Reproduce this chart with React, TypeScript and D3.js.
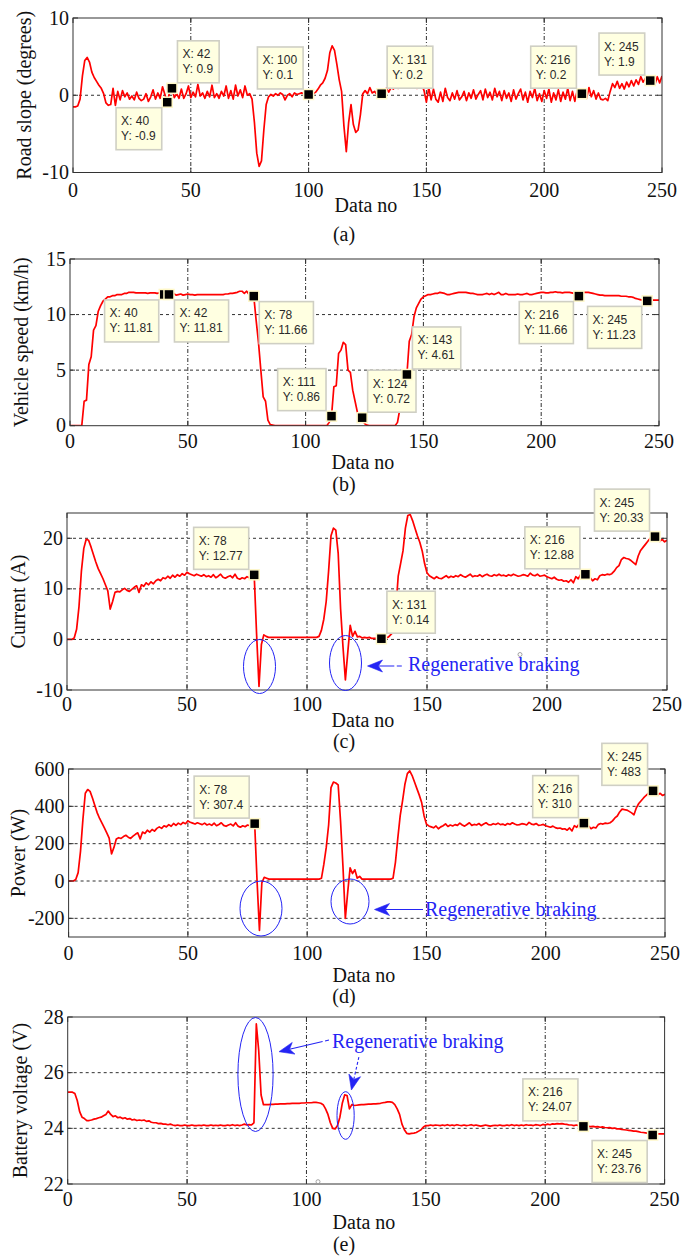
import React from 'react';
import * as d3 from 'd3';

// ---------- DATA (index = Data no, 0..250) ----------
const slope = [
  -1.5, -1.5, -1.4, -0.5, 2.5, 4.5, 4.9, 4.3, 3.0, 2.3,
  1.8, 1.3, 0.9, 0.2, -1.0, -1.3, -1.2, 0.9, -1.3, 0.5,
  -0.6, 0.6, -0.2, 0.3, -0.5, -0.1, -0.6, 0.4, -0.4, -0.7,
  -0.5, 0.2, -0.8, -0.2, 0.7, -0.5, 0.3, -0.4, 1.1, 0.1,
  -0.9, 0.4, 0.9, -0.3, 0.2, -0.4, 0.8, -0.4, 0.2, 1.2,
  -0.3, 0.4, -0.2, 1.4, -0.1, 0.3, -0.4, 0.5, -0.2, 1.3,
  -0.3, 0.2, -0.4, 0.5, -0.1, 1.2, -0.4, 0.6, -0.5, 1.3,
  -0.1, 0.7, -0.3, 1.2, 0.0, 0.2, -0.5, -3.5, -7.5, -9.2,
  -8.5, -4.5, -1.2, -0.2, 0.1, -0.1, 0.2, 0.0, 0.3, 0.1,
  -0.6, 0.0, 0.2, -0.2, 0.3, 0.1, 0.2, 0.3, 0.2, 0.3,
  0.1, 0.1, 0.2, 0.4, 0.8, 1.3, 1.6, 2.2, 3.2, 5.5,
  6.4, 5.8, 4.0, 2.0, 0.5, -4.0, -7.3, -3.5, -1.2, -3.8,
  -4.8, -4.5, -2.5, 0.2, 0.6, 0.2, 1.0, 0.3, 0.5, 0.1,
  0.3, 0.2, 0.5, 0.9, 0.4, 1.0, 0.8, 1.2, 0.9, 1.3,
  1.0, 1.4, 1.1, 1.3, 1.0, 1.2, 0.9, 1.2, 1.4, 0.6,
  -0.9, 1.0, -0.6, 0.8, -0.5, -0.9, 0.4, -0.8, 0.9, -0.3,
  -0.7, 0.3, -0.5, 0.6, -0.6, -0.2, 0.5, -0.7, 0.3, -0.4,
  0.7, -0.5, 0.1, 0.6, -0.6, 0.8, -0.3, 0.4, -0.6, 0.9,
  -0.2, 0.5, -0.7, 0.6, -0.4, 0.3, -0.8, 0.7, -0.5, 0.2,
  0.8, -0.6, 0.4, -0.9, 0.5, -0.3, 0.9, -0.7, 0.2, -0.8,
  0.6, -0.4, 0.8, -0.9, 0.3, -0.6, 0.7, -0.8, 0.4, -0.5,
  0.9, -0.7, 0.5, -0.8, 0.6, -0.3, 0.2, 0.7, -0.4, 1.0,
  -0.2, 0.6, -0.5, 0.3, -0.5, -0.6, -0.4, -0.7, 0.5, 1.5,
  1.0, 1.8, 0.9, 1.5, 0.8, 1.7, 1.1, 1.9, 1.2, 2.0,
  1.4, 2.4, 1.7, 2.2, 1.8, 1.9, 2.3, 1.4, 2.4, 1.6,
  2.5,
];

const speed = [
  0, 0, 0, 0, 0, 0, 2.2, 2.3, 5.5, 6.2,
  8.6, 9.0, 10.3, 10.8, 11.2, 11.4, 11.6, 11.6, 11.7, 11.7,
  11.8, 11.8, 11.8, 11.9, 11.9, 12.0, 12.0, 12.0, 11.95, 11.95,
  11.95, 11.95, 11.95, 11.9, 11.95, 11.95, 11.95, 11.9, 11.95, 11.95,
  11.81, 11.85, 11.81, 11.85, 11.9, 11.75, 11.8, 11.85, 11.75, 11.8,
  11.85, 11.8, 11.8, 11.75, 11.8, 11.8, 11.8, 11.8, 11.8, 11.8,
  11.8, 11.8, 11.8, 11.8, 11.8, 11.8, 11.85, 11.85, 11.9, 11.9,
  11.95, 12.0, 12.1, 12.1, 11.9, 12.1, 11.8, 11.7, 11.66, 9.5,
  7.5, 5.0, 2.6, 2.2, 0.5, 0.1, 0.05, 0, 0, 0,
  0, 0, 0, 0, 0, 0, 0, 0, 0, 0,
  0, 0, 0, 0, 0, 0, 0, 0, 0, 0,
  0.3, 0.86, 3.5, 3.6, 6.5, 6.8, 7.5, 7.3, 5.0, 4.8,
  3.2, 2.2, 1.2, 0.9, 0.72, 0.2, 0.05, 0, 0, 0,
  0, 0, 0, 0, 0, 0, 0, 0, 0, 0.3,
  1.5, 2.8, 3.8, 4.61, 7.6, 8.2, 9.8, 10.6, 11.0, 11.4,
  11.6, 11.7, 11.8, 11.8, 11.85, 11.9, 11.9, 12.0, 11.95, 11.9,
  11.8, 11.8, 11.85, 11.9, 11.95, 12.0, 12.0, 12.0, 12.0, 11.95,
  11.9, 11.9, 11.85, 11.8, 11.8, 11.8, 11.85, 11.9, 11.8, 11.9,
  11.8, 11.9, 12.0, 11.8, 11.8, 11.9, 11.8, 11.8, 11.8, 11.8,
  11.85, 11.8, 11.8, 11.85, 11.9, 11.8, 11.8, 11.85, 11.9, 11.95,
  12.0, 12.0, 11.95, 11.95, 12.0, 12.0, 12.05, 12.0, 12.0, 11.95,
  12.0, 12.0, 12.0, 11.95, 11.9, 11.85, 11.66, 11.9, 12.0, 12.0,
  12.0, 11.95, 11.9, 11.85, 11.8, 11.75, 11.75, 11.7, 11.7, 11.7,
  11.7, 11.7, 11.7, 11.7, 11.65, 11.65, 11.65, 11.6, 11.6, 11.55,
  11.45, 11.4, 11.35, 11.3, 11.25, 11.23, 11.25, 11.3, 11.3, 11.3,
  11.3,
];

const current = [
  0, 0, 0, 0.3, 2.0, 6.5, 13.5, 18.0, 19.8, 19.6,
  18.3, 16.8, 15.3, 14.0, 13.0, 12.0, 10.8, 9.6, 6.0, 7.5,
  9.3, 9.5, 9.4, 9.8, 10.1, 9.7, 9.5, 9.9, 10.3, 10.6,
  9.3, 10.8, 10.5, 11.2, 10.8, 11.4, 11.0, 11.6, 11.9, 11.6,
  12.2, 12.0, 12.5, 12.1, 12.7, 12.3, 12.8, 12.5, 13.0, 12.7,
  13.3, 13.0, 12.8, 12.6, 12.9, 12.7, 12.5, 12.8, 12.4, 12.6,
  12.3, 12.8, 12.2, 12.5, 12.9, 12.3, 12.1, 12.4, 12.6, 12.2,
  12.9, 12.1, 11.9, 12.2, 12.0, 12.4, 12.2, 12.8, 12.77, 1.0,
  -9.3, -1.0, 0.9, 0.6, 0.4, 0.4, 0.4, 0.4, 0.4, 0.4,
  0.4, 0.4, 0.4, 0.4, 0.4, 0.4, 0.4, 0.4, 0.4, 0.4,
  0.4, 0.4, 0.4, 0.4, 0.4, 0.6, 1.8, 4.0, 7.5, 13.5,
  20.5, 22.0, 21.6, 17.0, 6.0, -1.5, -8.0, -2.5, 2.8, 0.6,
  1.6, 0.5, 0.6, 0.3, 0.4, 0.3, 0.4, 0.2, 0.2, 0.2,
  0.2, 0.14, 0.2, 0.3, 0.5, 1.0, 1.5, 6.0, 12.5, 15.0,
  17.5, 22.0, 24.5, 24.7, 23.5, 22.0, 20.5, 19.2, 17.5, 15.0,
  13.2, 12.6, 12.3, 12.0, 12.4, 12.1, 12.0, 12.3, 12.6, 12.2,
  12.5, 12.3, 12.6, 12.4, 12.8, 12.5, 12.3, 12.6, 12.9, 12.4,
  12.6, 12.5, 12.8, 12.4, 12.7, 12.9, 12.6, 12.5, 12.8, 12.6,
  12.9, 12.6, 12.7, 12.5, 12.8, 12.6, 12.9, 12.7, 12.5, 12.6,
  12.8, 12.7, 12.5, 13.1, 12.7, 12.6, 12.9, 12.5, 12.6, 12.7,
  12.4, 12.2, 12.0, 12.3, 11.9, 11.7, 11.8, 11.5, 11.6, 11.3,
  11.8, 11.2, 12.4, 12.0, 12.8, 12.5, 12.88, 13.0, 12.2, 11.6,
  12.0, 11.8, 12.6, 12.8, 12.7, 12.9, 12.8, 13.0, 13.5, 14.2,
  14.6, 15.8, 16.2, 16.0, 15.9, 15.6, 15.2, 14.8, 16.5, 17.6,
  18.2, 18.8, 19.4, 20.0, 20.2, 20.33, 21.0, 19.4, 19.8, 19.3,
  19.6,
];

const power = [
  0, 0, 0, 8, 45, 160, 330, 470, 490, 480,
  445, 405, 365, 335, 310, 285, 258, 230, 145, 180,
  225, 232, 228, 238, 245, 235, 228, 240, 250, 258,
  225, 262, 255, 272, 262, 276, 267, 282, 290, 282,
  296, 290, 302, 293, 308, 298, 310, 302, 314, 307,
  322, 315, 310, 305, 312, 307, 302, 310, 300, 305,
  298, 310, 296, 303, 312, 298, 293, 300, 305, 295,
  312, 294, 288, 296, 291, 300, 296, 310, 307.4, 0,
  -265, -10, 20, 15, 10, 10, 10, 10, 10, 10,
  10, 10, 10, 10, 10, 10, 10, 10, 10, 10,
  10, 10, 10, 10, 10, 10, 15, 90, 180, 300,
  500, 530, 525, 515, 320, 80, -200, -60, 70, 40,
  60, 15, 25, 10, 10, 10, 10, 10, 10, 10,
  10, 10, 10, 10, 10, 10, 15, 100, 230, 350,
  430, 520, 575, 590, 565, 530, 495, 460, 420, 350,
  305, 295, 290, 285, 295, 280, 290, 296, 306, 292,
  300, 295, 302, 298, 310, 300, 294, 303, 312, 298,
  303, 300, 308, 297, 305, 312, 302, 300, 307, 303,
  310, 302, 305, 299, 308, 303, 312, 305, 300, 302,
  307, 305, 300, 314, 305, 302, 308, 298, 300, 303,
  296, 292, 288, 294, 286, 282, 284, 278, 280, 272,
  284, 268, 296, 288, 305, 300, 310, 312, 295, 280,
  288, 284, 302, 308, 305, 310, 308, 312, 322, 338,
  348, 370, 385, 382, 380, 373, 365, 355, 392, 415,
  430, 445, 458, 470, 478, 483, 495, 462, 470, 458,
  465,
];

const voltage = [
  25.3, 25.3, 25.3, 25.25, 25.0, 24.6, 24.4, 24.35, 24.28, 24.28,
  24.3, 24.33, 24.35, 24.38, 24.4, 24.45, 24.5, 24.62, 24.5, 24.42,
  24.45, 24.38, 24.4, 24.35, 24.38, 24.33, 24.35, 24.3, 24.32, 24.28,
  24.3, 24.28, 24.3, 24.25, 24.27, 24.22, 24.2, 24.2, 24.17, 24.18,
  24.15, 24.15, 24.13, 24.15, 24.12, 24.1, 24.12, 24.1, 24.1, 24.12,
  24.1, 24.1, 24.12, 24.1, 24.1, 24.11, 24.1, 24.12, 24.1, 24.1,
  24.12, 24.1, 24.11, 24.1, 24.12, 24.1, 24.1, 24.12, 24.1, 24.13,
  24.1, 24.12, 24.1, 24.12, 24.15, 24.12, 24.13, 24.12, 24.2, 27.75,
  26.8, 25.2, 24.85, 24.85, 24.85, 24.86, 24.86, 24.87, 24.87, 24.88,
  24.88, 24.88, 24.89, 24.89, 24.9, 24.9, 24.9, 24.9, 24.91, 24.91,
  24.92, 24.92, 24.92, 24.93, 24.93, 24.92, 24.9, 24.85, 24.7, 24.5,
  24.2, 24.0, 23.98, 24.1, 24.4, 24.9, 25.2, 25.18, 24.7, 24.85,
  24.82, 24.83, 24.84, 24.85, 24.85, 24.86, 24.87, 24.87, 24.88, 24.88,
  24.89, 24.9, 24.92, 24.93, 24.95, 24.95, 24.93, 24.85, 24.7, 24.5,
  24.15, 23.95, 23.82, 23.8, 23.82, 23.83, 23.85, 23.9, 23.95, 24.05,
  24.1, 24.1, 24.12, 24.1, 24.12, 24.11, 24.1, 24.12, 24.1, 24.13,
  24.1, 24.12, 24.1, 24.13, 24.11, 24.1, 24.12, 24.1, 24.11, 24.13,
  24.1, 24.12, 24.1, 24.08, 24.1, 24.12, 24.1, 24.08, 24.1, 24.11,
  24.1, 24.12, 24.1, 24.1, 24.12, 24.1, 24.13, 24.1, 24.12, 24.1,
  24.12, 24.1, 24.13, 24.11, 24.12, 24.1, 24.13, 24.12, 24.1, 24.14,
  24.12, 24.15, 24.13, 24.16, 24.15, 24.17, 24.16, 24.17, 24.15, 24.14,
  24.12, 24.12, 24.1, 24.12, 24.1, 24.08, 24.07, 24.08, 24.07, 24.06,
  24.07, 24.05, 24.06, 24.04, 24.05, 24.03, 24.02, 24.03, 24.0, 24.01,
  23.98, 23.98, 23.96, 23.95, 23.94, 23.93, 23.92, 23.9, 23.9, 23.88,
  23.86, 23.85, 23.84, 23.82, 23.8, 23.76, 23.78, 23.8, 23.8, 23.8,
  23.8,
];

// tick labels
const xTicks = [0, 50, 100, 150, 200, 250];
const slopeTicks = [-10, 0, 10];
const speedTicks = [0, 5, 10, 15];
const currentTicks = [-10, 0, 10, 20];
const powerTicks = [-200, 0, 200, 400, 600];
const voltTicks = [22, 24, 26, 28];

// data tips
const slopeTipX = [40, 42, 100, 131, 216, 245];
const slopeTipY = [-0.9, 0.9, 0.1, 0.2, 0.2, 1.9];
const speedTipX = [40, 42, 78, 111, 124, 143, 216, 245];
const speedTipY = [11.81, 11.81, 11.66, 0.86, 0.72, 4.61, 11.66, 11.23];
const currentTipX = [78, 131, 216, 245];
const currentTipY = [12.77, 0.14, 12.88, 20.33];
const powerTipX = [78, 216, 245];
const powerTipY = [307.4, 310, 483];
const voltTipX = [216, 245];
const voltTipY = [24.07, 23.76];

const annotationText = 'Regenerative braking';

// ---------- LAYOUT ----------
type Panel = {
  series: number[]; tipX: number[]; tipY: number[]; tipPlace: string[];
  left: number; right: number; top: number; bottom: number;
  domain: [number, number]; ticks: number[]; ylabel: string; ylabelX: number;
  tickBase: number; xlabelBase: number; xlabelX: number; cap: string; capBase: number;
};

const CAP_X = 344;

const PANELS: Panel[] = [
  { series: slope, tipX: slopeTipX, tipY: slopeTipY, tipPlace: ['bl', 'tr', 'tl', 'tr', 'tl', 'tl'],
    left: 73, right: 662, top: 18, bottom: 172.5, domain: [-10, 10], ticks: slopeTicks,
    ylabel: 'Road slope (degrees)', ylabelX: 31, tickBase: 197, xlabelBase: 212, xlabelX: 366, cap: '(a)', capBase: 241 },
  { series: speed, tipX: speedTipX, tipY: speedTipY, tipPlace: ['bl', 'br', 'br', 'tl', 'tr', 'tr', 'bl', 'bl'],
    left: 70, right: 659, top: 259, bottom: 425.7, domain: [0, 15], ticks: speedTicks,
    ylabel: 'Vehicle speed (km/h)', ylabelX: 28, tickBase: 448, xlabelBase: 469, xlabelX: 363, cap: '(b)', capBase: 491 },
  { series: current, tipX: currentTipX, tipY: currentTipY, tipPlace: ['tl', 'tr', 'tl', 'tl'],
    left: 67, right: 667, top: 513, bottom: 690, domain: [-10, 25], ticks: currentTicks,
    ylabel: 'Current (A)', ylabelX: 25, tickBase: 711, xlabelBase: 727, xlabelX: 363, cap: '(c)', capBase: 747.5 },
  { series: power, tipX: powerTipX, tipY: powerTipY, tipPlace: ['tl', 'tl', 'tl'],
    left: 68.6, right: 665, top: 769, bottom: 937, domain: [-300, 600], ticks: powerTicks,
    ylabel: 'Power (W)', ylabelX: 25, tickBase: 960, xlabelBase: 982, xlabelX: 364, cap: '(d)', capBase: 1003 },
  { series: voltage, tipX: voltTipX, tipY: voltTipY, tipPlace: ['tl', 'bl'],
    left: 67.7, right: 664.6, top: 1017, bottom: 1184, domain: [22, 28], ticks: voltTicks,
    ylabel: 'Battery voltage (V)', ylabelX: 27, tickBase: 1206, xlabelBase: 1229, xlabelX: 364, cap: '(e)', capBase: 1251 },
];

const SERIF = "'Liberation Serif', 'Times New Roman', serif";
const SANS = "'Liberation Sans', Arial, sans-serif";
const BLUE = '#2424f4';

let ctx: CanvasRenderingContext2D | null = null;
function measure(t: string, font = `12px ${SANS}`) {
  if (!ctx) ctx = document.createElement('canvas').getContext('2d');
  if (!ctx) return t.length * 6.5;
  ctx.font = font;
  return ctx.measureText(t).width;
}

function arrowHead(tx: number, ty: number, fx: number, fy: number, L = 15, W = 6) {
  const dx = fx - tx, dy = fy - ty;
  const len = Math.hypot(dx, dy);
  const ux = dx / len, uy = dy / len;
  const px = -uy, py = ux;
  const p1 = [tx + ux * L + px * W, ty + uy * L + py * W];
  const p2 = [tx + ux * L * 0.72, ty + uy * L * 0.72];
  const p3 = [tx + ux * L - px * W, ty + uy * L - py * W];
  return {
    d: `M${tx},${ty}L${p1[0]},${p1[1]}L${p2[0]},${p2[1]}L${p3[0]},${p3[1]}Z`,
    back: p2,
  };
}

function Arrow({ from, tip, dash }: { from: [number, number]; tip: [number, number]; dash?: string }) {
  const h = arrowHead(tip[0], tip[1], from[0], from[1]);
  return (
    <g>
      <line x1={h.back[0]} y1={h.back[1]} x2={from[0]} y2={from[1]} stroke={BLUE} strokeWidth={1.1} strokeDasharray={dash} />
      <path d={h.d} fill={BLUE} stroke={BLUE} strokeWidth={0.6} />
    </g>
  );
}

function PanelView({ p, idx }: { p: Panel; idx: number }) {
  const x = d3.scaleLinear().domain([0, 250]).range([p.left, p.right]);
  const y = d3.scaleLinear().domain(p.domain).range([p.bottom, p.top]);
  const line = d3.line<number>().x((_, i) => x(i)).y((d) => y(d));
  const clipId = `clip${idx}`;
  const inner = p.ticks.filter((t) => t > p.domain[0] && t < p.domain[1]);
  const tickLen = 5;
  return (
    <g>
      <defs>
        <clipPath id={clipId}>
          <rect x={p.left} y={p.top} width={p.right - p.left} height={p.bottom - p.top} />
        </clipPath>
      </defs>
      <rect x={p.left} y={p.top} width={p.right - p.left} height={p.bottom - p.top} fill="#fff" />
      {xTicks.slice(1, -1).map((t) => (
        <line key={'gx' + t} x1={x(t)} x2={x(t)} y1={p.top} y2={p.bottom} stroke="#1a1a1a" strokeWidth={0.9} strokeDasharray="4,2,1,2" />
      ))}
      {inner.map((t) => (
        <line key={'gy' + t} x1={p.left} x2={p.right} y1={y(t)} y2={y(t)} stroke="#1a1a1a" strokeWidth={0.9} strokeDasharray="3,3" />
      ))}
      <path d={line(p.series) || ''} fill="none" stroke="#ff0000" strokeWidth={1.7} clipPath={`url(#${clipId})`} strokeLinejoin="round" />
      {xTicks.map((t) => (
        <g key={'tx' + t}>
          <line x1={x(t)} x2={x(t)} y1={p.bottom} y2={p.bottom - tickLen} stroke="#333" />
          <line x1={x(t)} x2={x(t)} y1={p.top} y2={p.top + tickLen} stroke="#333" />
          <text x={x(t)} y={p.tickBase} textAnchor="middle" fontFamily={SERIF} fontSize={20} fill="#111">{t}</text>
        </g>
      ))}
      {p.ticks.map((t) => (
        <g key={'ty' + t}>
          <line x1={p.left} x2={p.left + tickLen} y1={y(t)} y2={y(t)} stroke="#333" />
          <line x1={p.right} x2={p.right - tickLen} y1={y(t)} y2={y(t)} stroke="#333" />
          <text x={p.left - 4} y={y(t) + 6.5} textAnchor="end" fontFamily={SERIF} fontSize={20} fill="#111">{t}</text>
        </g>
      ))}
      <rect x={p.left} y={p.top} width={p.right - p.left} height={p.bottom - p.top} fill="none" stroke="#333" strokeWidth={1} />
      <text transform={`translate(${p.ylabelX},${(p.top + p.bottom) / 2}) rotate(-90)`} textAnchor="middle" fontFamily={SERIF} fontSize={20} fill="#111">{p.ylabel}</text>
      <text x={p.xlabelX} y={p.xlabelBase} textAnchor="middle" fontFamily={SERIF} fontSize={20} fill="#111">Data no</text>
      <text x={CAP_X} y={p.capBase} textAnchor="middle" fontFamily={SERIF} fontSize={20} fill="#111">{p.cap}</text>
      {p.tipX.map((tx, i) => {
        const ty = p.tipY[i];
        const mx = x(tx), my = y(ty);
        const l1 = `X: ${tx}`, l2 = `Y: ${ty}`;
        const w = Math.max(measure(l1), measure(l2)) + 11;
        const h = 42, g = 5.5;
        const place = p.tipPlace[i];
        const bx = place[1] === 'r' ? mx + g : mx - g - w;
        const by = place[0] === 't' ? my - g - h : my + g;
        return (
          <g key={'tip' + i}>
            <rect x={mx - 5} y={my - 5} width={10} height={10} fill="#000" stroke="#fff8c8" strokeWidth={1.5} />
            <rect x={bx} y={by} width={w} height={h} fill="#ffffe1" stroke="#cfcfc4" strokeWidth={1.6} />
            <text x={bx + 5} y={by + 17.5} fontFamily={SANS} fontSize={12} fill="#2a2a2a">{l1}</text>
            <text x={bx + 5} y={by + 32.5} fontFamily={SANS} fontSize={12} fill="#2a2a2a">{l2}</text>
          </g>
        );
      })}
    </g>
  );
}

export default function App() {
  return (
    <svg width={683} height={1258} viewBox="0 0 683 1258"
      style={{ position: 'absolute', left: 0, top: 0, background: '#fff', display: 'block' }}>
      <rect x={0} y={0} width={683} height={1258} fill="#fff" />
      {PANELS.map((p, i) => <PanelView key={i} p={p} idx={i} />)}

      {/* (c) annotations */}
      <ellipse cx={259.5} cy={666.5} rx={16} ry={27} fill="none" stroke={BLUE} strokeWidth={1} />
      <ellipse cx={345.5} cy={663} rx={16} ry={27.5} fill="none" stroke={BLUE} strokeWidth={1} />
      <Arrow from={[404, 666]} tip={[367.5, 666]} dash="16,2.5,5" />
      <text x={408} y={671} fontFamily={SERIF} fontSize={20} fill={BLUE}>{annotationText}</text>
      <circle cx={520} cy={654.5} r={2} fill="none" stroke="#9a9a9a" strokeWidth={0.9} />

      {/* (d) annotations */}
      <ellipse cx={261} cy={908.5} rx={21} ry={27.5} fill="none" stroke={BLUE} strokeWidth={1} />
      <ellipse cx={350} cy={901.5} rx={19} ry={22.5} fill="none" stroke={BLUE} strokeWidth={1} />
      <Arrow from={[423, 909.5]} tip={[374.5, 909.5]} />
      <text x={425} y={916} fontFamily={SERIF} fontSize={20} fill={BLUE}>{annotationText}</text>

      {/* (e) annotations */}
      <ellipse cx={255.5} cy={1074.5} rx={17.6} ry={57} fill="none" stroke={BLUE} strokeWidth={1} />
      <ellipse cx={345.6} cy={1115.5} rx={8.6} ry={23.8} fill="none" stroke={BLUE} strokeWidth={1} />
      <Arrow from={[329, 1040]} tip={[279, 1051.7]} dash="34,2.5,5" />
      <Arrow from={[359, 1056.5]} tip={[351.4, 1090]} dash="3,2" />
      <text x={332} y={1048} fontFamily={SERIF} fontSize={20} fill={BLUE}>{annotationText}</text>
      <circle cx={318} cy={1181.7} r={2} fill="none" stroke="#9a9a9a" strokeWidth={0.9} />
    </svg>
  );
}
